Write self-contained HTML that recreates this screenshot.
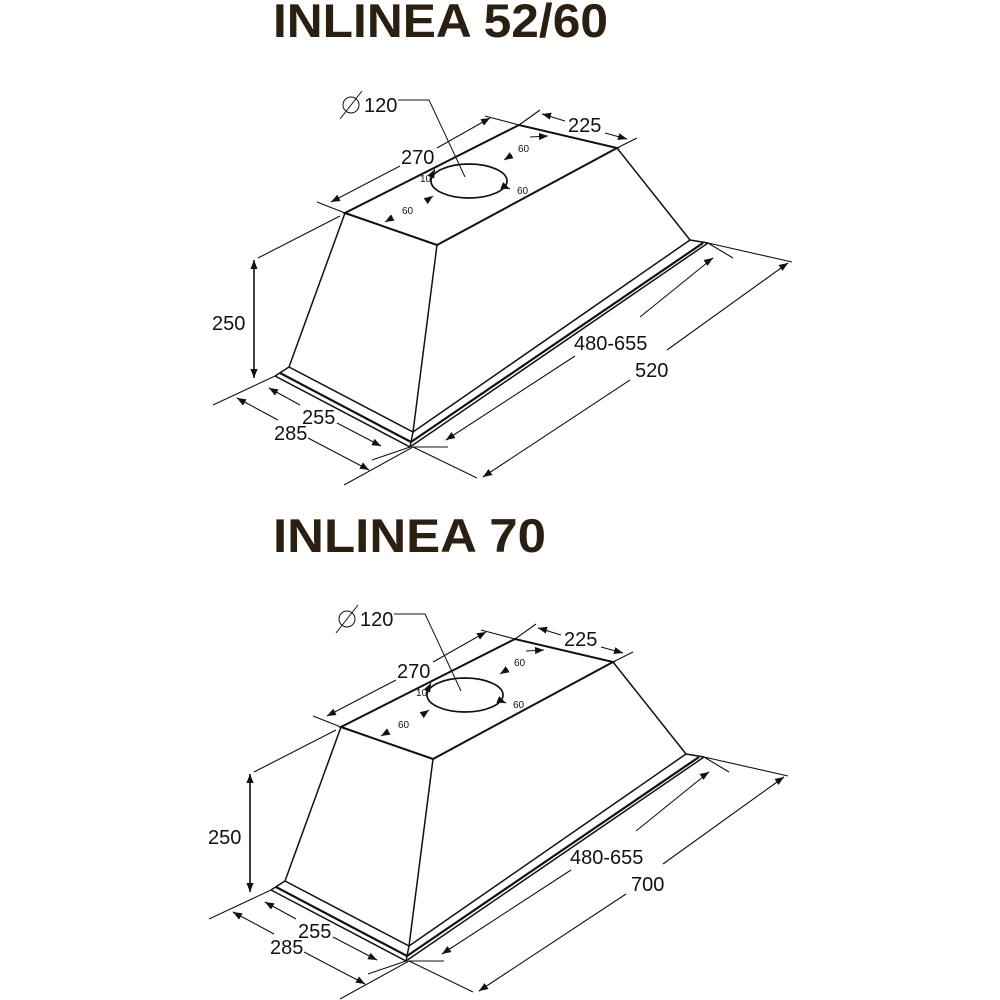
<!DOCTYPE html>
<html><head><meta charset="utf-8"><style>
html,body{margin:0;padding:0;background:#fff;}
svg{display:block;}
text{font-family:"Liberation Sans",sans-serif;fill:#111;}
</style></head><body>
<svg width="1000" height="1000" viewBox="0 0 1000 1000" xmlns="http://www.w3.org/2000/svg">
<defs>
<marker id="ah" viewBox="0 0 10 10" refX="10" refY="5" markerWidth="9" markerHeight="9" markerUnits="userSpaceOnUse" orient="auto-start-reverse"><path d="M0,1 L10,5 L0,9 z" fill="#111"/></marker>
<g id="diag" fill="none" stroke="#111" stroke-width="1.5">
  <path d="M345,213 L437,245 L617,148 L519,125 Z" stroke-width="2"/>
  <path d="M345,213 L289,367 M437,245 L413,432 M617,148 L690,240"/>
  <path d="M289,367 L413,432 L690,240"/>
  <path d="M275,376 L410,447 L708,243"/>
  <path d="M280,373 L411,442 L703,243" stroke-width="2.2"/>
  <path d="M289,367 L275,376 M690,240 L708,243 M413,432 L410,447"/>
  <ellipse cx="469" cy="181" rx="38" ry="17" stroke-width="1.7"/>
  <path d="M398,100 L429,100 L465,177" stroke-width="1"/>
  <circle cx="351" cy="105" r="8" stroke-width="1"/>
  <path d="M340,119 L362,91" stroke-width="1"/>
  <path d="M317,202 L345,213 M485,116 L519,125" stroke-width="1.1"/>
  <path d="M331,202 L400,166 M437,148 L490,118" stroke-width="1.1" marker-start="url(#ah)" marker-end="url(#ah)"/>
  <path d="M519,125 L540,110 M617,148 L637,138" stroke-width="1.1"/>
  <path d="M542,114 L565,121 M605,133 L627,139" stroke-width="1.1"/>
  <path d="M542,114 L550,116" marker-start="url(#ah)" stroke-width="1.1"/>
  <path d="M620,137 L627,139" marker-end="url(#ah)" stroke-width="1.1"/>
  <path d="M530,137 L548,136" marker-end="url(#ah)" stroke-width="1.1"/>
  <path d="M254,260 L254,378" stroke-width="1.6" marker-start="url(#ah)" marker-end="url(#ah)"/>
  <path d="M258,258 L340,216 M213,405 L275,376" stroke-width="1.1"/>
  <path d="M269,388 L300,405 M337,423 L381,446" stroke-width="1.1"/>
  <path d="M269,388 L276,392" marker-start="url(#ah)" stroke-width="1.1"/>
  <path d="M375,443 L381,446" marker-end="url(#ah)" stroke-width="1.1"/>
  <path d="M237,398 L278,420 M308,438 L369,470" stroke-width="1.1"/>
  <path d="M237,398 L244,402" marker-start="url(#ah)" stroke-width="1.1"/>
  <path d="M362,466 L369,470" marker-end="url(#ah)" stroke-width="1.1"/>
  <path d="M344,485 L413,447 L448,447 M413,447 L477,478 M372,460 L410,447" stroke-width="1.1"/>
  <path d="M446,440 L575,356 M640,317 L713,258" stroke-width="1.1"/>
  <path d="M446,440 L452,436" marker-start="url(#ah)" stroke-width="1.1"/>
  <path d="M707,262 L713,258" marker-end="url(#ah)" stroke-width="1.1"/>
  <path d="M483,477 L630,380 M667,350 L788,263" stroke-width="1.1"/>
  <path d="M483,477 L489,473" marker-start="url(#ah)" stroke-width="1.1"/>
  <path d="M782,267 L788,263" marker-end="url(#ah)" stroke-width="1.1"/>
  <path d="M708,243 L792,262 M708,243 L733,258" stroke-width="1.1"/>
  <path d="M512,155 L504,160" marker-end="url(#ah)" stroke-width="1"/>
  <path d="M431,177 L435,169" marker-end="url(#ah)" stroke-width="1"/>
  <path d="M503,186 L510,189" marker-end="url(#ah)" stroke-width="1"/>
  <path d="M426,201 L433,196" marker-end="url(#ah)" stroke-width="1"/>
  <path d="M392,218 L385,222" marker-end="url(#ah)" stroke-width="1"/>
</g>
</defs>
<text x="273" y="37" font-size="47" font-weight="bold" textLength="335" lengthAdjust="spacingAndGlyphs" style="fill:#2a1f10">INLINEA 52/60</text>
<text x="273" y="552" font-size="47" font-weight="bold" textLength="273" lengthAdjust="spacingAndGlyphs" style="fill:#2a1f10">INLINEA 70</text>
<use href="#diag"/>
<use href="#diag" transform="translate(-4,514)"/>
<g font-size="20">
  <text x="364" y="112">120</text>
  <text x="401" y="164">270</text>
  <text x="568" y="132">225</text>
  <text x="212" y="330">250</text>
  <text x="302" y="424">255</text>
  <text x="274" y="440">285</text>
  <text x="574" y="350">480-655</text>
  <text x="635" y="377">520</text>
  <text x="360" y="626">120</text>
  <text x="397" y="678">270</text>
  <text x="564" y="646">225</text>
  <text x="208" y="844">250</text>
  <text x="298" y="938">255</text>
  <text x="270" y="954">285</text>
  <text x="570" y="864">480-655</text>
  <text x="631" y="891">700</text>
</g>
<g font-size="10">
  <text x="518" y="152">60</text>
  <text x="420" y="182">10</text>
  <text x="517" y="194">60</text>
  <text x="402" y="214">60</text>
  <text x="514" y="666">60</text>
  <text x="416" y="696">10</text>
  <text x="513" y="708">60</text>
  <text x="398" y="728">60</text>
</g>
</svg>
</body></html>
